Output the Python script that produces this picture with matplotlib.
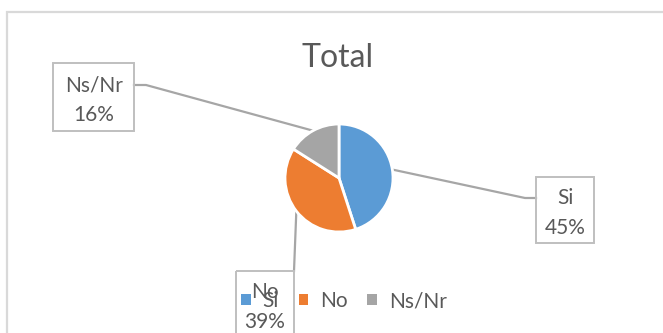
import matplotlib
matplotlib.use('Agg')
import matplotlib.pyplot as plt
from matplotlib.patches import Rectangle, Patch
import numpy as np

# ---- data ----
categories = ['Si', 'No', 'Ns/Nr']
values = [45, 39, 16]
colors = ['#5B9BD5', '#ED7D31', '#A5A5A5']
title = 'Total'

plt.rcParams['font.family'] = ['Lato', 'DejaVu Sans']
TXT = '#595959'

W, H = 663, 333
fig = plt.figure(figsize=(W / 100, H / 100), dpi=100)

# overlay axes in pixel coordinates (layout only)
ov = fig.add_axes([0, 0, 1, 1], zorder=0)
ov.set_xlim(0, W)
ov.set_ylim(H, 0)
ov.axis('off')

# chart frame (cropped)
ov.plot([7, 7, W + 5], [H + 5, 12, 12], color='#d9d9d9', lw=1.6,
        solid_joinstyle='miter')

# title
ov.text(338, 67, title, ha='center', va='baseline', fontsize=23, color=TXT)

# pie
cx, cy, r = 339, 178, 54
pax = fig.add_axes([(cx - r) / W, (H - cy - r) / H, 2 * r / W, 2 * r / H], zorder=1)
pax.pie(values, colors=colors, startangle=90, counterclock=False, radius=1,
        wedgeprops=dict(edgecolor='white', linewidth=2))
pax.set_xlim(-1, 1)
pax.set_ylim(-1, 1)

# data label layout: box (x, y, w, h), text center x, baselines, leader path
layout = {
    'Si': dict(box=(536, 177, 58, 66), tx=565, b=(204, 234), path=[(525, 198), (536, 198)]),
    'No': dict(box=(236, 271, 58, 72), tx=265, b=(298, 328), path=[(294, 271)]),
    'Ns/Nr': dict(box=(53, 63, 81, 68), tx=94, b=(91, 121), path=[(146, 85), (134, 85)]),
}

total = float(sum(values))
cum = 0.0
for cat, v in zip(categories, values):
    mid = 90 - 360 * (cum + v / 2) / total
    cum += v
    sx = cx + r * np.cos(np.radians(mid))
    sy = cy - r * np.sin(np.radians(mid))
    L = layout[cat]
    xs = [sx] + [p[0] for p in L['path']]
    ys = [sy] + [p[1] for p in L['path']]
    ov.plot(xs, ys, color='#a6a6a6', lw=1.6, zorder=2)
    bx, by, bw, bh = L['box']
    ov.add_patch(Rectangle((bx, by), bw, bh, fill=False, edgecolor='#bfbfbf', lw=1.4, zorder=3))
    pct = round(100 * v / total)
    ov.text(L['tx'], L['b'][0], cat, ha='center', va='baseline', fontsize=15, color=TXT, zorder=4)
    ov.text(L['tx'], L['b'][1], f'{pct}%', ha='center', va='baseline', fontsize=15, color=TXT, zorder=4)

# legend
handles = [Patch(facecolor=c, edgecolor='none') for c in colors]
fig.legend(handles, categories, loc='center', bbox_to_anchor=(344 / W, 1 - 301 / H),
           ncol=3, frameon=False, fontsize=15, handlelength=0.44, handleheight=0.44,
           handletextpad=0.58, columnspacing=0.95, labelcolor=TXT, borderpad=0, borderaxespad=0)

fig.savefig('out.png', dpi=100)
